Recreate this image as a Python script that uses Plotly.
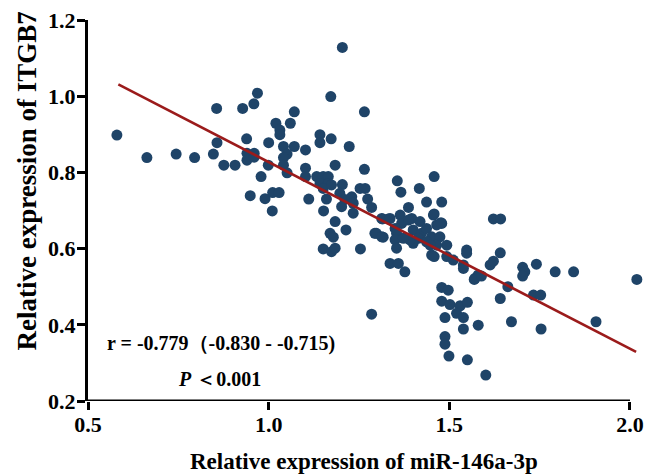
import plotly.graph_objects as go

# Scatter data: relative expression of miR-146a-3p (x) vs ITGB7 (y)
mir_146a = [
    0.580, 0.663, 0.744, 0.795, 0.856, 0.857, 0.847, 0.876, 0.907, 0.928,
    0.959, 0.969, 0.939, 0.940, 0.960, 0.940, 0.960, 1.000, 0.999, 0.979,
    1.020, 0.949, 0.990, 1.011, 1.029, 1.010, 1.204, 1.172, 1.265, 1.071,
    1.060, 1.031, 1.031, 1.142, 1.142, 1.173, 1.223, 1.041, 1.071, 1.102,
    1.051, 1.041, 1.041, 1.051, 1.184, 1.102, 1.102, 1.265, 1.133, 1.151,
    1.165, 1.142, 1.165, 1.151, 1.174, 1.204, 1.197, 1.211, 1.230, 1.234,
    1.202, 1.234, 1.253, 1.267, 1.274, 1.285, 1.111, 1.160, 1.152, 1.184,
    1.214, 1.170, 1.179, 1.151, 1.174, 1.184, 1.254, 1.285, 1.315, 1.331,
    1.294, 1.317, 1.356, 1.366, 1.417, 1.458, 1.387, 1.437, 1.479, 1.313,
    1.336, 1.364, 1.368, 1.350, 1.354, 1.396, 1.419, 1.400, 1.423, 1.414,
    1.437, 1.456, 1.479, 1.451, 1.474, 1.493, 1.465, 1.437, 1.400, 1.391,
    1.350, 1.354, 1.298, 1.313, 1.387, 1.373, 1.465, 1.458, 1.477, 1.451,
    1.493, 1.511, 1.548, 1.548, 1.539, 1.539, 1.571, 1.580, 1.336, 1.359,
    1.377, 1.479, 1.497, 1.479, 1.502, 1.530, 1.550, 1.520, 1.539, 1.488,
    1.458, 1.622, 1.642, 1.641, 1.613, 1.622, 1.569, 1.589, 1.662, 1.641,
    1.703, 1.709, 1.703, 1.741, 1.793, 1.844, 2.019, 1.733, 1.753, 1.580,
    1.539, 1.672, 1.754, 1.906, 1.488, 1.488, 1.499, 1.550, 1.601, 1.447,
]
itgb7 = [
    0.898, 0.839, 0.848, 0.839, 0.968, 0.878, 0.848, 0.819, 0.819, 0.968,
    0.980, 1.008, 0.888, 0.850, 0.850, 0.832, 0.840, 0.878, 0.819, 0.789,
    0.929, 0.739, 0.731, 0.747, 0.747, 0.699, 1.128, 0.999, 0.959, 0.959,
    0.929, 0.911, 0.899, 0.899, 0.878, 0.888, 0.868, 0.868, 0.868, 0.859,
    0.848, 0.839, 0.819, 0.799, 0.819, 0.811, 0.789, 0.808, 0.789, 0.789,
    0.789, 0.771, 0.771, 0.758, 0.767, 0.768, 0.745, 0.729, 0.736, 0.719,
    0.710, 0.693, 0.758, 0.758, 0.730, 0.708, 0.730, 0.730, 0.699, 0.671,
    0.649, 0.640, 0.630, 0.599, 0.592, 0.601, 0.599, 0.428, 0.678, 0.678,
    0.640, 0.630, 0.778, 0.748, 0.758, 0.789, 0.708, 0.722, 0.722, 0.679,
    0.679, 0.688, 0.666, 0.653, 0.640, 0.679, 0.671, 0.649, 0.640, 0.627,
    0.653, 0.688, 0.666, 0.631, 0.631, 0.609, 0.609, 0.618, 0.614, 0.623,
    0.623, 0.601, 0.640, 0.631, 0.675, 0.627, 0.662, 0.691, 0.668, 0.583,
    0.579, 0.570, 0.596, 0.588, 0.557, 0.548, 0.522, 0.531, 0.561, 0.561,
    0.539, 0.498, 0.491, 0.462, 0.453, 0.450, 0.459, 0.430, 0.419, 0.419,
    0.579, 0.678, 0.678, 0.589, 0.557, 0.567, 0.519, 0.528, 0.500, 0.469,
    0.551, 0.539, 0.528, 0.559, 0.539, 0.539, 0.519, 0.478, 0.478, 0.399,
    0.389, 0.408, 0.389, 0.408, 0.369, 0.349, 0.318, 0.308, 0.268, 0.609,
]

# Fitted regression line (end points)
fit_x = [0.584, 2.017]
fit_y = [1.031, 0.329]

x_ticks = [0.5, 1.0, 1.5, 2.0]
x_tick_labels = ["0.5", "1.0", "1.5", "2.0"]
y_ticks = [0.2, 0.4, 0.6, 0.8, 1.0, 1.2]
y_tick_labels = ["0.2", "0.4", "0.6", "0.8", "1.0", "1.2"]

x_title = "Relative expression of miR-146a-3p"
y_title = "Relative expression of ITGB7"
stat_r = "r = -0.779（-0.830 - -0.715)"
stat_p = "<i>P</i> ＜0.001"

FONT = "Liberation Serif, Times New Roman, serif"


def bold(s):
    return "<b>" + s + "</b>"


fig = go.Figure()
fig.add_trace(go.Scatter(
    x=mir_146a, y=itgb7, mode="markers",
    marker=dict(size=11, color="#1f4468", line=dict(width=0)),
    cliponaxis=False, showlegend=False,
))
fig.add_trace(go.Scatter(
    x=fit_x, y=fit_y, mode="lines",
    line=dict(color="#9b1b1b", width=2.6),
    showlegend=False,
))

# x axis line only up to 2.0
fig.add_shape(type="line", xref="x", yref="y", x0=0.5, x1=2.0, y0=0.2, y1=0.2,
              line=dict(color="black", width=3), layer="above")

fig.add_annotation(x=0.869, y=0.352, xref="x", yref="y", showarrow=False,
                   text=bold(stat_r), font=dict(family=FONT, size=20, color="black"))
fig.add_annotation(x=0.864, y=0.258, xref="x", yref="y", showarrow=False,
                   text=bold(stat_p), font=dict(family=FONT, size=20, color="black"))

# axis titles
fig.add_annotation(x=0.5, y=-0.1575, xref="paper", yref="paper", showarrow=False,
                   xanchor="center", yanchor="middle",
                   text=bold(x_title), font=dict(family=FONT, size=23, color="black"))
fig.add_annotation(x=-0.1107, y=0.576, xref="paper", yref="paper", showarrow=False,
                   xanchor="center", yanchor="middle", textangle=-90,
                   text=bold(y_title), font=dict(family=FONT, size=27, color="black"))

fig.update_layout(
    width=650, height=468,
    margin=dict(l=80, r=19, t=12, b=75, autoexpand=False),
    paper_bgcolor="white", plot_bgcolor="white",
    font=dict(family=FONT, color="black"),
    xaxis=dict(
        range=[0.5, 2.025], showline=False, showgrid=False, zeroline=False,
        automargin=False, ticklabeloverflow="allow",
        tickmode="array", tickvals=x_ticks, ticktext=[bold(t) for t in x_tick_labels],
        ticks="outside", ticklen=8, tickwidth=3, tickcolor="black",
        ticklabelstandoff=-4,
        tickfont=dict(family=FONT, size=22, color="black"),
    ),
    yaxis=dict(
        range=[0.2, 1.2], showline=True, linecolor="black", linewidth=3,
        showgrid=False, zeroline=False, automargin=False, ticklabeloverflow="allow",
        tickmode="array", tickvals=y_ticks, ticktext=[bold(t) for t in y_tick_labels],
        ticks="outside", ticklen=8, tickwidth=3, tickcolor="black",
        ticklabelstandoff=-3,
        tickfont=dict(family=FONT, size=22, color="black"),
    ),
)

fig.write_html("out.html")
